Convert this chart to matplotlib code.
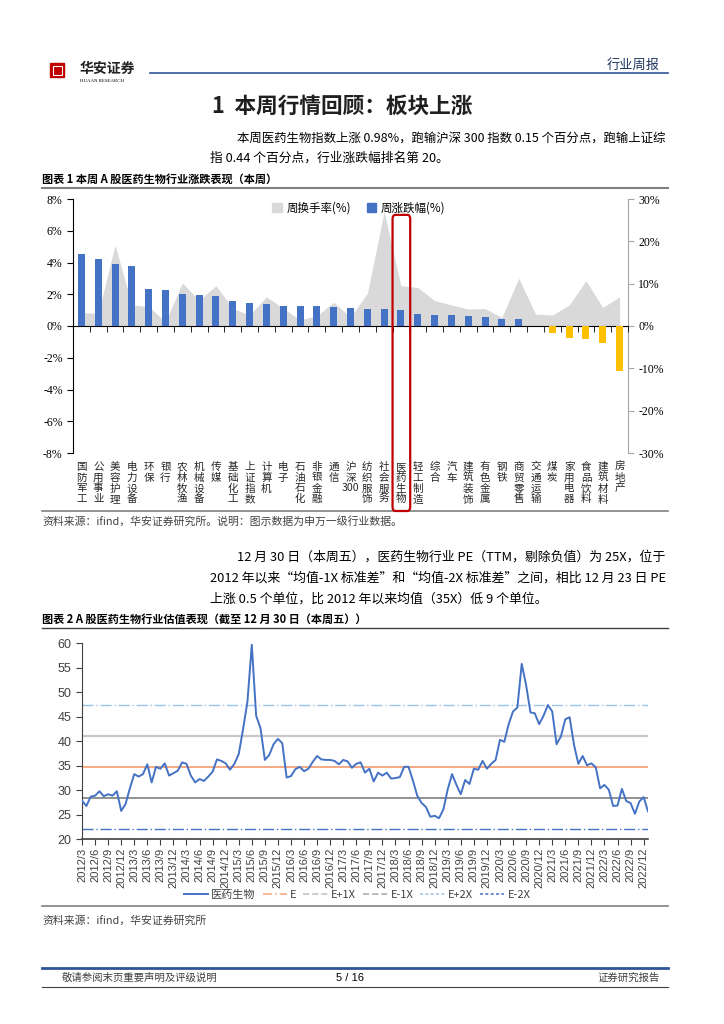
import numpy as np
import matplotlib
matplotlib.use('Agg')
import matplotlib.pyplot as plt
from matplotlib.patches import Patch, Rectangle, FancyBboxPatch
from matplotlib.lines import Line2D

plt.rcParams['font.family'] = ['Noto Sans CJK SC', 'DejaVu Sans']

# ---- chart 1 data: weekly change / turnover by industry
industries = ['国防军工', '公用事业', '美容护理', '电力设备', '环保', '银行', '农林牧渔',
              '机械设备', '传媒', '基础化工', '上证指数', '计算机', '电子', '石油石化',
              '非银金融', '通信', '沪深300', '纺织服饰', '社会服务', '医药生物', '轻工制造',
              '综合', '汽车', '建筑装饰', '有色金属', '钢铁', '商贸零售', '交通运输', '煤炭',
              '家用电器', '食品饮料', '建筑材料', '房地产']
weekly_chg = [4.56, 4.21, 3.88, 3.79, 2.35, 2.29, 2.04, 1.97, 1.91, 1.59, 1.42, 1.41, 1.28,
              1.26, 1.26, 1.17, 1.13, 1.09, 1.05, 0.98, 0.78, 0.72, 0.68, 0.60, 0.58, 0.42,
              0.41, 0.01, -0.42, -0.74, -0.82, -1.10, -2.83]
turnover = [3.2, 3.0, 19.1, 5.0, 4.6, 1.0, 10.2, 6.1, 9.5, 4.2, 2.6, 6.9, 4.2, 1.4, 2.4, 5.6,
            2.1, 7.7, 27.0, 9.5, 9.1, 6.0, 5.0, 4.0, 4.1, 2.0, 11.3, 2.8, 2.6, 4.9, 10.7, 4.4, 6.9]

# ---- chart 2 data: monthly PE(TTM) 2012/3 - 2022/12
pe_values = [27.9, 26.8, 28.7, 28.9, 29.8, 28.8, 29.2, 28.9, 29.8, 25.8,
             27.2, 30.4, 33.3, 32.8, 33.3, 35.3, 31.6, 34.8, 34.4, 35.5,
             33.0, 33.5, 34.0, 35.7, 35.4, 33.0, 31.6, 32.3, 31.9, 32.8,
             33.8, 36.3, 36.0, 35.5, 34.2, 35.4, 37.4, 42.5, 48.1, 59.7,
             45.2, 42.7, 36.2, 37.2, 39.4, 40.5, 39.6, 32.6, 32.9, 34.3,
             34.8, 33.9, 34.4, 35.8, 37.0, 36.3, 36.2, 36.2, 36.0, 35.3,
             36.2, 35.9, 34.6, 35.4, 35.7, 33.6, 34.4, 31.8, 33.6, 33.0,
             33.6, 32.4, 32.5, 32.7, 34.8, 34.8, 32.0, 28.9, 27.4, 26.6,
             24.6, 24.8, 24.3, 26.1, 30.2, 33.3, 31.1, 29.2, 32.1, 31.3,
             34.4, 34.2, 36.0, 34.4, 35.4, 36.2, 40.3, 39.9, 43.5, 46.1,
             46.9, 55.8, 51.5, 45.9, 45.7, 43.5, 45.2, 47.4, 46.1, 39.4,
             41.0, 44.5, 44.9, 39.3, 35.4, 37.0, 35.1, 35.5, 34.7, 30.4,
             31.1, 30.1, 26.8, 26.9, 30.3, 27.8, 27.4, 25.2, 27.7, 28.6,
             25.7]
band_names = ['E', 'E+1X', 'E-1X', 'E+2X', 'E-2X']
band_values = [34.8, 41.1, 28.5, 47.4, 22.2]
quarter_labels = [f"{2012 + (k + 2) // 12}/{(k + 2) % 12 + 1}" for k in range(0, 130, 3)]

W, H = 724, 1024
fig = plt.figure(figsize=(7.24, 10.24), dpi=100)


def fx(x):
    return x / W


def fy(y):
    return 1 - y / H


def hline(y, x0, x1, color, lw):
    fig.add_artist(Line2D([fx(x0), fx(x1)], [fy(y), fy(y)], color=color, lw=lw,
                          transform=fig.transFigure))


# ---- page header
fig.add_artist(Rectangle((fx(50), fy(77)), fx(14), 14 / H, color='#C00000',
                         transform=fig.transFigure))
fig.add_artist(Rectangle((fx(52.5), fy(74.5)), fx(9), 9 / H, fill=False, ec='white', lw=0.8,
                         transform=fig.transFigure))
fig.text(fx(80), fy(69), '华安证券', fontsize=10, fontweight='bold', va='center', color='#222222')
fig.text(fx(80), fy(81.5), 'HUAAN RESEARCH', fontsize=3.5, va='center', family='Liberation Serif')
hline(72.5, 150, 668, '#2F5597', 1.2)
fig.text(fx(660), fy(65), '行业周报', fontsize=9.5, ha='right', va='center', color='#1F3864')

fig.text(fx(212), fy(106), '1  本周行情回顾：板块上涨', fontsize=15.6, fontweight='bold',
         va='center', color='#1F1F1F')
fig.text(fx(237), fy(138), '本周医药生物指数上涨 0.98%，跑输沪深 300 指数 0.15 个百分点，跑输上证综',
         fontsize=8.95, va='center')
fig.text(fx(210), fy(158), '指 0.44 个百分点，行业涨跌幅排名第 20。', fontsize=9.2, va='center')
fig.text(fx(42), fy(179), '图表 1 本周 A 股医药生物行业涨跌表现（本周）', fontsize=8,
         fontweight='bold', va='center')
hline(188, 42, 668, '#808080', 1.5)

# ---- chart 1
ax = fig.add_axes([fx(73), fy(453), fx(628) - fx(73), fy(199) - fy(453)])
ax2 = ax.twinx()
ax.set_zorder(ax2.get_zorder() + 1)
ax.patch.set_visible(False)

x = np.arange(len(industries))
ax2.fill_between(x, turnover, 0, color='#D9D9D9', lw=0)
ax2.set_ylim(-30, 30)
bar_colors = ['#4472C4' if v >= 0 else '#FFC000' for v in weekly_chg]
ax.bar(x, weekly_chg, width=0.42, color=bar_colors, zorder=3)
ax.set_ylim(-8, 8)
ax.set_xlim(-0.5, len(x) - 0.5)

for s in ['top', 'right']:
    ax.spines[s].set_visible(False)
ax.spines['bottom'].set_position(('data', 0))
ax.spines['bottom'].set_linewidth(0.8)
ax.spines['left'].set_linewidth(0.8)
for s in ['top', 'left', 'bottom']:
    ax2.spines[s].set_visible(False)
ax2.spines['right'].set_color('#A6A6A6')

ax.set_xticks(np.arange(-0.5, len(x), 1))
ax.tick_params(axis='x', direction='out', length=4, width=0.6, labelbottom=False)
ax.set_yticks(np.arange(-8, 9, 2))
ax.set_yticklabels([f'{v}%' for v in range(-8, 9, 2)], family='Liberation Serif', fontsize=8.5)
ax.tick_params(axis='y', length=4, width=0.8)
ax2.set_yticks(np.arange(-30, 31, 10))
ax2.set_yticklabels([f'{v}%' for v in range(-30, 31, 10)], family='Liberation Serif', fontsize=8.5)
ax2.tick_params(axis='y', length=4, color='#A6A6A6')

for i, name in enumerate(industries):
    label = '沪\n深\n300' if name.endswith('300') else '\n'.join(name)
    ax.text(i, -0.035, label, transform=ax.get_xaxis_transform(), ha='center', va='top',
            fontsize=7.6, linespacing=1.1, color='#262626')

handles = [Patch(color='#D9D9D9'), Patch(color='#4472C4')]
ax.legend(handles, ['周换手率(%)', '周涨跌幅(%)'], loc='center', bbox_to_anchor=(0.515, 0.965),
          ncol=2, frameon=False, fontsize=8.3, handlelength=0.8, handleheight=0.8,
          handletextpad=0.4, columnspacing=1.4)

# red highlight box round 医药生物
k = industries.index('医药生物')
inv = fig.transFigure.inverted()
x0f, y0f = inv.transform(ax.transData.transform((k - 0.5, 7.0)))
x1f, _ = inv.transform(ax.transData.transform((k + 0.55, 0)))
ybot = fy(511)
fig.add_artist(FancyBboxPatch((x0f, ybot), x1f - x0f, y0f - ybot,
                              boxstyle='round,pad=0,rounding_size=0.004',
                              transform=fig.transFigure, fill=False, ec='#C00000', lw=1.6,
                              zorder=10))

hline(511, 42, 668, '#808080', 1.2)
fig.text(fx(42), fy(521), '资料来源：ifind，华安证券研究所。说明：图示数据为申万一级行业数据。',
         fontsize=7.8, va='center', color='#404040')

# ---- text block 2
fig.text(fx(237), fy(557), '12 月 30 日（本周五），医药生物行业 PE（TTM，剔除负值）为 25X，位于',
         fontsize=9.3, va='center')
fig.text(fx(210), fy(578), '2012 年以来“均值-1X 标准差”和“均值-2X 标准差”之间，相比 12 月 23 日 PE',
         fontsize=9.3, va='center')
fig.text(fx(210), fy(599), '上涨 0.5 个单位，比 2012 年以来均值（35X）低 9 个单位。',
         fontsize=9.3, va='center')
fig.text(fx(42), fy(619), '图表 2 A 股医药生物行业估值表现（截至 12 月 30 日（本周五））', fontsize=8,
         fontweight='bold', va='center')
hline(628, 42, 668, '#404040', 1.0)

# ---- chart 2
ax3 = fig.add_axes([fx(82), fy(839.3), fx(648) - fx(82), fy(643.3) - fy(839.3)])
m = np.arange(len(pe_values))
ax3.plot(m, pe_values, color='#4472C4', lw=1.4, zorder=5)
band_colors = ['#F4A37A', '#C8C8C8', '#7F7F7F', '#9DC3E6', '#4472C4']
band_ls = ['-', '-', '-', (0, (8, 2, 1, 2)), (0, (8, 2, 1, 2))]
band_lw = [1.3, 1.6, 1.2, 1.0, 1.0]
for val, c, ls, lw in zip(band_values, band_colors, band_ls, band_lw):
    ax3.axhline(val, color=c, ls=ls, lw=lw)
ax3.set_xlim(0, len(pe_values) - 1)
ax3.set_ylim(20, 60)
ax3.set_yticks(np.arange(20, 61, 5))
ax3.set_xticks(np.arange(0, 130, 3))
ax3.set_xticklabels(quarter_labels, rotation=90, family='Liberation Sans', fontsize=8,
                    color='#404040')
for lab in ax3.get_yticklabels():
    lab.set_family('Liberation Sans')
ax3.tick_params(axis='y', labelsize=9, labelcolor='#404040', length=4, color='#404040')
ax3.tick_params(axis='x', length=4, color='#404040', pad=2)
for s in ['top', 'right']:
    ax3.spines[s].set_visible(False)
ax3.spines['left'].set_color('#404040')
ax3.spines['bottom'].set_color('#404040')
ax3.spines['bottom'].set_linewidth(1.2)

# legend proxies (legend in the source shows dashed keys)
leg_handles = [Line2D([], [], color='#4472C4', lw=1.4),
               Line2D([], [], color='#F4A37A', lw=1.1, ls=(0, (6, 2, 1, 2))),
               Line2D([], [], color='#BFBFBF', lw=1.1, ls=(0, (4, 2))),
               Line2D([], [], color='#A6A6A6', lw=1.1, ls=(0, (4, 2))),
               Line2D([], [], color='#9DC3E6', lw=1.1, ls=(0, (2, 1.5))),
               Line2D([], [], color='#4472C4', lw=1.1, ls=(0, (2, 1.5)))]
leg = ax3.legend(leg_handles, ['医药生物'] + band_names, loc='center',
                 bbox_to_anchor=(0.486, -0.284), ncol=6, frameon=False,
                 fontsize=8, handlelength=2.2, columnspacing=0.6, handletextpad=0.3)
for t in leg.get_texts():
    t.set_color('#404040')

hline(906, 42, 668, '#808080', 1.2)
fig.text(fx(42), fy(921), '资料来源：ifind，华安证券研究所', fontsize=7.8, va='center', color='#404040')

# ---- footer
hline(968, 42, 668, '#2F5597', 2.0)
fig.text(fx(62), fy(978), '敬请参阅末页重要声明及评级说明', fontsize=7.5, va='center', color='#404040')
fig.text(fx(350), fy(978), '5 / 16', fontsize=8, va='center', ha='center', family='Liberation Sans')
fig.text(fx(660), fy(978), '证券研究报告', fontsize=7.5, va='center', ha='right', color='#404040')
hline(987, 42, 668, '#404040', 0.8)

fig.savefig('out.png', dpi=100)
